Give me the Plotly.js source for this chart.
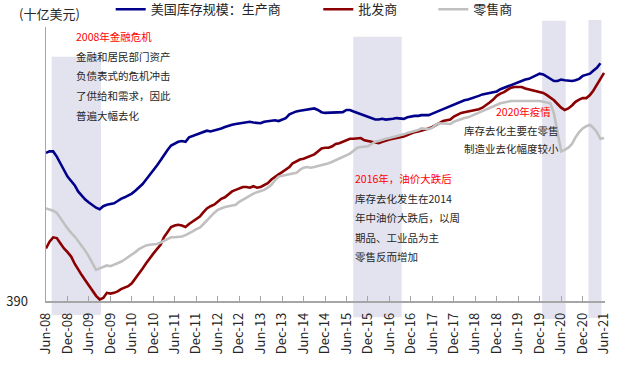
<!DOCTYPE html>
<html><head><meta charset="utf-8">
<script src="https://cdn.plot.ly/plotly-3.0.1.min.js"></script>
<style>html,body{margin:0;padding:0;background:#fff}#chart{width:624px;height:365px}</style>
</head><body><div id="chart"></div>
<script>
// Monthly series, Jun-2008 onwards (US$ bn)
const producers = [
590,592,592,585,576,566,558,552,546,538,
532,527,523,519,516,514,518,520,521,522,
525,528,530,532,535,539,543,548,554,560,
567,573,580,587,594,600,603,605,606,605,
611,613,615,617,619,620,619,620,621,623,
625,627,628,629,630,631,632,632,631,630,
630,632,633,634,634,633,635,637,642,644,
646,647,648,648,649,650,648,645,644,644,
645,644,645,645,648,648,646,644,642,641,
639,637,635,635,636,635,635,636,637,636,
636,638,639,640,640,641,641,641,643,645,
647,650,652,654,656,658,660,661,662,664,
665,667,669,670,671,672,673,676,678,680,
682,684,686,687,689,690,692,694,697,696,
693,689,687,687,689,688,687,687,688,690,
694,695,697,701,705,711];
const wholesalers = [
461,470,476,475,468,461,456,450,440,432,
425,418,411,403,397,392,394,401,400,401,
403,406,408,410,414,420,427,434,441,448,
454,460,466,476,483,490,492,493,492,490,
494,497,500,504,510,515,518,520,524,528,
530,534,538,540,542,544,544,543,545,543,
544,546,549,554,558,561,564,567,571,576,
579,581,582,584,586,588,592,596,597,597,
599,602,603,605,608,609,609,609,610,607,
606,605,604,603,605,607,608,609,610,610,
612,614,616,618,619,620,621,623,625,628,
631,633,634,635,639,642,644,645,646,647,
648,649,651,654,658,662,667,670,672,675,
678,679,679,679,677,676,675,674,673,671,
668,665,661,656,651,648,650,654,659,662,
664,664,668,674,682,690,698];
const retailers = [
515,514,512,509,502,494,488,482,477,471,
465,458,450,440,432,434,436,438,437,439,
441,443,446,449,452,456,460,463,465,466,
466,467,469,471,474,476,476,476,477,479,
481,484,487,489,494,499,505,509,513,515,
517,518,519,520,524,527,530,532,535,537,
538,540,543,547,553,558,559,560,561,562,
563,567,570,571,570,571,572,574,575,576,
578,580,582,584,586,589,593,597,598,599,
599,602,605,606,608,609,610,611,612,614,
615,617,618,619,621,623,623,622,624,628,
630,630,629,629,632,634,636,637,638,640,
642,644,647,648,650,653,655,657,658,659,
660,660,660,661,661,661,661,660,660,659,
658,657,643,617,592,594,597,602,611,618,
623,626,628,624,618,609,610];
const seriesNames = ['美国库存规模：生产商','批发商','零售商'];
const tickLabels = ['Jun-08','Dec-08','Jun-09','Dec-09','Jun-10','Dec-10','Jun-11','Dec-11','Jun-12','Dec-12','Jun-13','Dec-13','Jun-14','Dec-14','Jun-15','Dec-15','Jun-16','Dec-16','Jun-17','Dec-17','Jun-18','Dec-18','Jun-19','Dec-19','Jun-20','Dec-20','Jun-21'];
const tickDates = ['2008-06-01','2008-12-01','2009-06-01','2009-12-01','2010-06-01','2010-12-01','2011-06-01','2011-12-01','2012-06-01','2012-12-01','2013-06-01','2013-12-01','2014-06-01','2014-12-01','2015-06-01','2015-12-01','2016-06-01','2016-12-01','2017-06-01','2017-12-01','2018-06-01','2018-12-01','2019-06-01','2019-12-01','2020-06-01','2020-12-01','2021-06-01'];
const shadeStart = ['2008-07-19','2015-07-29','2019-12-22','2021-01-19'];
const shadeEnd   = ['2009-09-12','2016-09-13','2020-07-10','2021-05-10'];

function months(n){
  const out=[];
  for(let i=0;i<n;i++){
    const k=5+i; const y=2008+Math.floor(k/12); const mo=k%12+1;
    out.push(y+'-'+(mo<10?'0':'')+mo+'-01');
  }
  return out;
}

const FONT='"Noto Sans CJK SC", "Noto Sans", sans-serif';
const L=46, R=605, T=27, B=301;
const px = x => (x-L)/(R-L);
const py = y => (B-y)/(B-T);

const colors=['#00008b','#8b0000','#c0c0c0'];
const data=[producers,wholesalers,retailers].map((s,i)=>({
  type:'scatter', mode:'lines', x:months(s.length), y:s, name:seriesNames[i],
  line:{color:colors[i], width:2.6}, legend: i===0?'legend':('legend'+(i+1))
}));

const shadeTop=[0.8916,0.9646,1.023,1.0255];
const shadeBot=[-0.051,-0.0595,-0.0657,-0.062];
const shapes=shadeStart.map((s,i)=>({type:'rect', xref:'x', yref:'paper', x0:s, x1:shadeEnd[i], y0:shadeBot[i], y1:shadeTop[i], fillcolor:'#e3e3ef', line:{width:0}, layer:'below'}));

const RED='#ff0000', DARK='#262626';
const notes=[
  ['2008年金融危机',74,36.7,RED,'left'],
  ['金融和居民部门资产',74,56.3,DARK,'left'],
  ['负债表式的危机冲击',74,76,DARK,'left'],
  ['了供给和需求，因此',74,95.5,DARK,'left'],
  ['普遍大幅去化',74,115,DARK,'left'],
  ['2016年，油价大跌后',353.3,178.3,RED,'left'],
  ['库存去化发生在2014',353.3,198.3,DARK,'left'],
  ['年中油价大跌后，以周',353.3,217.7,DARK,'left'],
  ['期品、工业品为主',353.3,237.3,DARK,'left'],
  ['零售反而增加',353.3,256.7,DARK,'left'],
  ['2020年疫情',552.5,111.2,RED,'right'],
  ['库存去化主要在零售',462,130.3,DARK,'left'],
  ['制造业去化幅度较小',462,148.3,DARK,'left'],
];
const annotations=notes.map(n=>({text:n[0], xref:'paper', yref:'paper', x:px(n[1]), y:py(n[2]), xanchor:n[4], yanchor:'middle', showarrow:false, font:{family:FONT,size:10.5,color:n[3]}}));
annotations.push({text:'(十亿美元)', xref:'paper', yref:'paper', x:px(17), y:py(13.5), xanchor:'left', yanchor:'middle', showarrow:false, font:{family:FONT,size:13,color:'#262626'}});

const legBase={orientation:'h', yanchor:'middle', y:py(9.3), xanchor:'left', bgcolor:'rgba(0,0,0,0)', borderwidth:0, font:{family:FONT,size:13,color:'#262626'}};
const layout={
  width:624, height:365,
  margin:{l:L, r:624-R, t:T, b:365-B, autoexpand:false},
  paper_bgcolor:'#fff', plot_bgcolor:'#fff',
  font:{family:FONT, color:'#262626'},
  showlegend:true,
  legend:Object.assign({}, legBase, {x:px(110.7)}),
  legend2:Object.assign({}, legBase, {x:px(318.3)}),
  legend3:Object.assign({}, legBase, {x:px(433.3)}),
  xaxis:{type:'date', range:['2008-06-01','2021-06-09'], tickvals:tickDates, ticktext:tickLabels, tickangle:-90,
    ticks:'inside', ticklen:5, tickcolor:'#a6a6a6', tickwidth:1, showline:true, linecolor:'#a6a6a6', linewidth:1.5,
    showgrid:false, zeroline:false, tickfont:{family:FONT,size:13,color:'#262626'}, ticklabelstandoff:5, automargin:false},
  yaxis:{range:[390,760], tickvals:[390], ticktext:['390'], showline:true, linecolor:'#a6a6a6', linewidth:1.5,
    showgrid:false, zeroline:false, ticks:'', tickfont:{family:FONT,size:13,color:'#262626'}, ticklabelstandoff:14, automargin:false},
  shapes:shapes, annotations:annotations
};
Plotly.newPlot('chart', data, layout, {displayModeBar:false, staticPlot:true});
</script></body></html>
